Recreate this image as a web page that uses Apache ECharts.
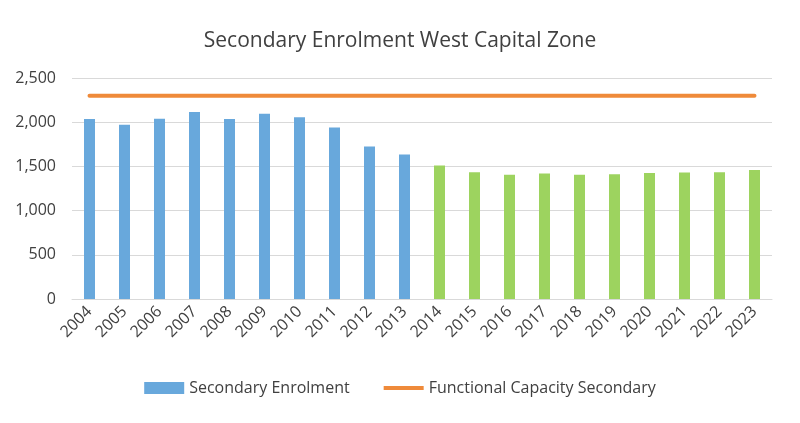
<!DOCTYPE html>
<html>
<head>
<meta charset="utf-8">
<script src="https://cdn.jsdelivr.net/npm/echarts@6/dist/echarts.min.js"></script>
<style>html,body{margin:0;padding:0;background:#fff}#c{width:800px;height:423px}</style>
</head>
<body>
<div id="c"></div>
<script>
var years = ['2004','2005','2006','2007','2008','2009','2010','2011','2012','2013','2014','2015','2016','2017','2018','2019','2020','2021','2022','2023'];
var enrolment = [2035,1970,2040,2115,2035,2095,2055,1940,1725,1635,1510,1435,1405,1420,1405,1410,1425,1430,1435,1460];
var projected = [false,false,false,false,false,false,false,false,false,false,true,true,true,true,true,true,true,true,true,true];
var capacity = [2300,2300,2300,2300,2300,2300,2300,2300,2300,2300,2300,2300,2300,2300,2300,2300,2300,2300,2300,2300];

var BLUE = '#68a8dc', GREEN = '#9dd35f', ORANGE = '#ef8a3a';
var font = "'Open Sans', 'Noto Sans', sans-serif";

var barData = enrolment.map(function(v, i){
  return {value: v, itemStyle: {color: projected[i] ? GREEN : BLUE}};
});

var chart = echarts.init(document.getElementById('c'), null, {renderer: 'canvas'});
chart.setOption({
  animation: false,
  backgroundColor: '#fff',
  title: {
    text: 'Secondary Enrolment West Capital Zone',
    left: 'center', top: 26,
    textStyle: {fontFamily: font, fontSize: 21, fontWeight: 'normal', color: '#404040'}
  },
  legend: {
    bottom: 22, left: 'center', itemGap: 34, itemWidth: 40, itemHeight: 12,
    textStyle: {fontFamily: font, fontSize: 16, color: '#404040'},
    data: [
      {name: 'Secondary Enrolment', icon: 'rect', itemStyle: {color: BLUE}},
      {name: 'Functional Capacity Secondary', icon: 'path://M0,0 L40,0 L40,4 L0,4 Z', itemStyle: {color: ORANGE}}
    ]
  },
  grid: {left: 72, right: 28, top: 78, bottom: 124},
  xAxis: {
    type: 'category', data: years,
    axisLine: {lineStyle: {color: '#d9d9d9'}},
    axisTick: {show: false},
    axisLabel: {rotate: 45, fontFamily: font, fontSize: 16, color: '#404040', margin: 10, interval: 0}
  },
  yAxis: {
    type: 'value', min: 0, max: 2500, interval: 500,
    axisLine: {show: false}, axisTick: {show: false},
    splitLine: {lineStyle: {color: '#d9d9d9', width: 1}},
    axisLabel: {fontFamily: font, fontSize: 16, color: '#404040', margin: 16,
      formatter: function(v){ return v.toLocaleString('en-US'); }}
  },
  series: [
    {name: 'Secondary Enrolment', type: 'bar', data: barData, barWidth: 11, itemStyle: {color: BLUE}},
    {name: 'Functional Capacity Secondary', type: 'line', data: capacity, symbol: 'none',
      lineStyle: {color: ORANGE, width: 4, cap: 'round'}, itemStyle: {color: ORANGE}}
  ]
});
</script>
</body>
</html>
